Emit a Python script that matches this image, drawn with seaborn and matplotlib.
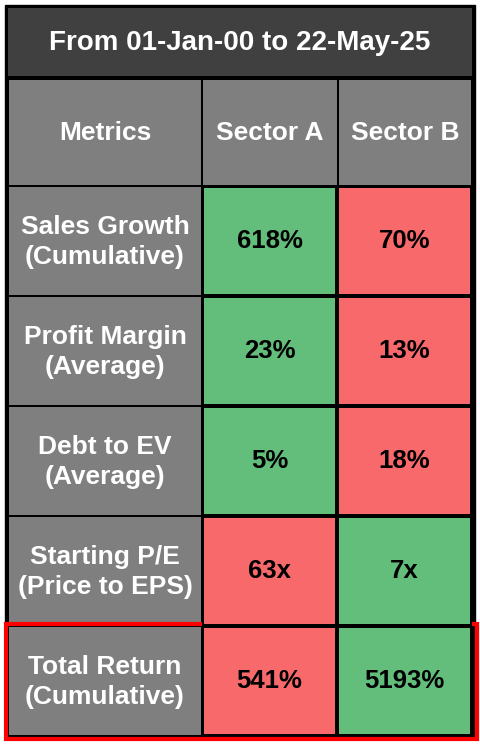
import matplotlib
matplotlib.use("Agg")
import matplotlib.pyplot as plt
from matplotlib.patches import Rectangle
from matplotlib.colors import ListedColormap
import seaborn as sns
import numpy as np

title = "From 01-Jan-00 to 22-May-25"
columns = ["Metrics", "Sector A", "Sector B"]
metrics = ["Sales Growth\n(Cumulative)", "Profit Margin\n(Average)", "Debt to EV\n(Average)",
           "Starting P/E\n(Price to EPS)", "Total Return\n(Cumulative)"]
sector_a = ["618%", "23%", "5%", "63x", "541%"]
sector_b = ["70%", "13%", "18%", "7x", "5193%"]
# 1 = better (green), 0 = worse (red)
a_good = [1, 1, 1, 0, 0]
b_good = [0, 0, 0, 1, 1]

sns.set_theme(style="white")
plt.rcParams['font.family'] = ['Liberation Sans', 'DejaVu Sans']

fig = plt.figure(figsize=(4.8, 7.48), dpi=100)
ax0 = fig.add_axes([0, 0, 1, 1])
ax0.set_xlim(0, 480)
ax0.set_ylim(748, 0)
ax0.axis("off")

# outer frame + title band
ax0.add_patch(Rectangle((5, 5), 470, 733, fc="black", ec="black"))
ax0.add_patch(Rectangle((8, 8), 464, 68, fc="#404040", ec="none"))
ax0.text(240, 43, title, color="white", fontsize=20, fontweight="bold", ha="center", va="center")

# header row and metric column
x_edges = [8, 202, 338, 472]
for i, col in enumerate(columns):
    ax0.add_patch(Rectangle((x_edges[i] + 1, 80), x_edges[i + 1] - x_edges[i] - 2, 105, fc="#7f7f7f", ec="none"))
    ax0.text((x_edges[i] + x_edges[i + 1]) / 2, 133, col, color="white", fontsize=19,
             fontweight="bold", ha="center", va="center")
row_h = 110
for j, m in enumerate(metrics):
    y0 = 187 + j * row_h
    ax0.add_patch(Rectangle((9, y0), 192, row_h - 2, fc="#7f7f7f", ec="none"))
    ax0.text(105, y0 + row_h / 2, m, color="white", fontsize=19, fontweight="bold",
             ha="center", va="center", linespacing=1.3)

# value cells as heatmap
ax1 = fig.add_axes([202 / 480, (748 - 736) / 748, 270 / 480, 550 / 748])
vals = np.array([a_good, b_good]).T
annot = np.array([sector_a, sector_b]).T
sns.heatmap(vals, ax=ax1, cmap=ListedColormap(["#f8696b", "#63be7b"]), vmin=0, vmax=1,
            annot=annot, fmt="", cbar=False, linewidths=1.5, linecolor="black",
            annot_kws={"fontsize": 18.5, "fontweight": "bold", "color": "black"})
ax1.set_xticks([])
ax1.set_yticks([])

# highlight last row
ax0.add_patch(Rectangle((6, 624), 471, 115, fc="none", ec="#ff0000", lw=3, zorder=10))

fig.savefig("out.png", dpi=100)
